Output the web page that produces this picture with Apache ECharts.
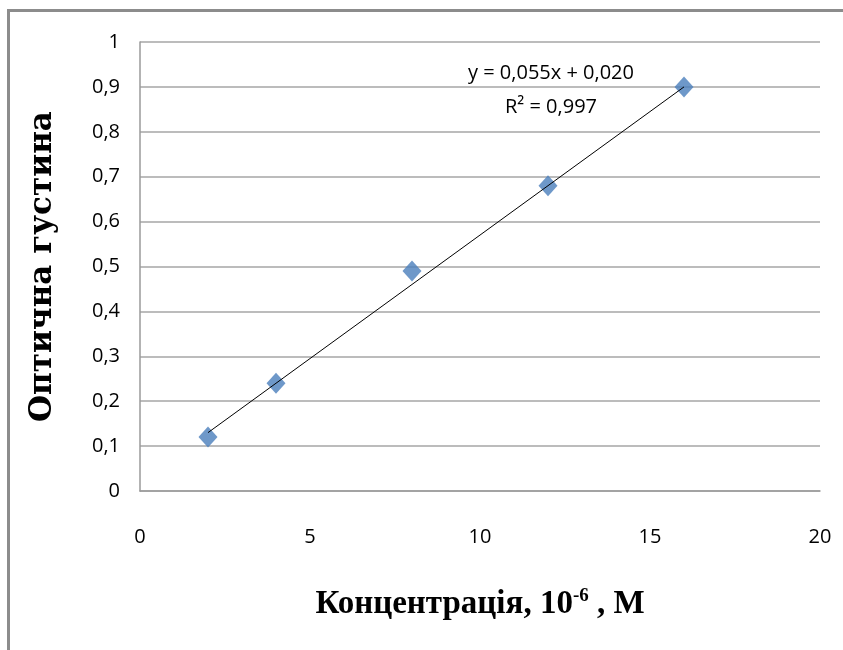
<!DOCTYPE html>
<html><head><meta charset="utf-8">
<script src="https://cdn.jsdelivr.net/npm/echarts@6/dist/echarts.min.js"></script>
<style>
html,body{margin:0;padding:0;background:#fff;}
#frame{position:absolute;left:7px;top:9px;width:836px;height:641px;border-top:3px solid #8c8c8c;border-left:3px solid #8c8c8c;box-sizing:border-box;}
#chart{position:absolute;left:0;top:0;width:843px;height:650px;}
</style></head>
<body>
<div id="frame"></div>
<div id="chart"></div>
<script>
// Data
const concentrations = [2, 4, 8, 12, 16];
const opticalDensity = [0.12, 0.24, 0.49, 0.68, 0.90];
const trendX = [2, 16];
const trendY = [0.13, 0.90];
const equationText = 'y = 0,055x + 0,020';
const r2Text = 'R² = 0,997';
const xTitle = 'Концентрація, ';
const yTitle = 'Оптична густина';

const points = concentrations.map((x, i) => [x, opticalDensity[i]]);
const trend = trendX.map((x, i) => [x, trendY[i]]);

const tickFont = "'Liberation Sans Narrow', 'Open Sans', sans-serif";
const titleFont = "'Liberation Serif', serif";

const chart = echarts.init(document.getElementById('chart'), null, {renderer: 'canvas'});
chart.setOption({
  animation: false,
  grid: {left: 140, right: 23, top: 42, bottom: 159},
  xAxis: {
    type: 'value', min: 0, max: 20, interval: 5,
    axisLine: {lineStyle: {color: '#9a9a9a', width: 1.5}},
    axisTick: {show: false},
    splitLine: {show: false},
    axisLabel: {color: '#000', fontFamily: tickFont, fontSize: 20, margin: 36},
    name: '{t|' + xTitle + '}{t|10}{s|-6}{t| , М}',
    nameLocation: 'middle', nameGap: 96,
    nameTextStyle: {
      rich: {
        t: {fontFamily: titleFont, fontWeight: 'bold', fontSize: 33, color: '#000'},
        s: {fontFamily: titleFont, fontWeight: 'bold', fontSize: 19, color: '#000', verticalAlign: 'top', padding: [0,0,16,0]}
      }
    }
  },
  yAxis: {
    type: 'value', min: 0, max: 1, interval: 0.1,
    axisLine: {show: true, lineStyle: {color: '#9a9a9a', width: 1.5}},
    axisTick: {show: false},
    splitLine: {lineStyle: {color: '#a6a6a6', width: 1.5}},
    axisLabel: {color: '#000', fontFamily: tickFont, fontSize: 20, margin: 20,
      formatter: v => String(Math.round(v * 10) / 10).replace('.', ',')},
    name: yTitle, nameLocation: 'middle', nameGap: 82,
    nameTextStyle: {fontFamily: "'DejaVu Serif', serif", fontWeight: 'bold', fontSize: 31, color: '#000'}
  },
  series: [
    {
      type: 'line', data: trend, symbol: 'none', silent: true,
      lineStyle: {color: '#000', width: 1}, z: 3
    },
    {
      type: 'scatter', data: points, symbol: 'diamond', symbolSize: [19, 21],
      itemStyle: {color: '#4a7ebb'}, z: 2
    }
  ],
  graphic: [
    {type: 'text', x: 551, y: 73, style: {text: equationText, font: "20px " + tickFont, fill: '#000', align: 'center', verticalAlign: 'middle'}},
    {type: 'text', x: 551, y: 107, style: {text: r2Text, font: "20px " + tickFont, fill: '#000', align: 'center', verticalAlign: 'middle'}}
  ]
});
</script>
</body></html>
